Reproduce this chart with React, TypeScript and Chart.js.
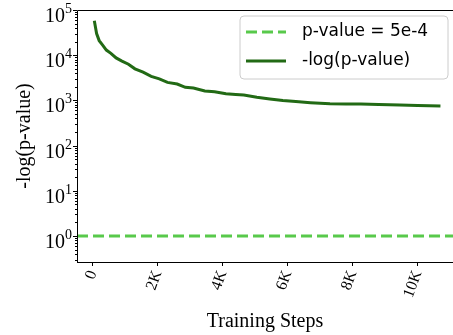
import React, { useEffect, useRef } from 'react';
import { Chart, registerables } from 'chart.js';

Chart.register(...registerables);

// ---- data ----
const steps = [50, 120, 200, 300, 420, 560, 720, 900, 1100, 1300, 1550, 1800, 2050, 2300, 2600, 2850, 3100, 3450, 3750, 4100, 4400, 4650, 5050, 5450, 5850, 6250, 6700, 7300, 7800, 8250, 8800, 9450, 10000, 10700];
const negLogP = [58000, 30000, 21000, 17000, 13000, 11000, 8700, 7400, 6300, 5000, 4200, 3400, 3000, 2500, 2300, 1950, 1880, 1620, 1560, 1400, 1350, 1310, 1180, 1080, 990, 940, 890, 840, 835, 830, 810, 790, 770, 750];
const thresholdValue = 1;
const thresholdLabel = 'p-value = 5e-4';
const curveLabel = '-log(p-value)';
const xTitle = 'Training Steps';
const yTitle = '-log(p-value)';
const xTickValues = [0, 2000, 4000, 6000, 8000, 10000];
const xTickLabels = ['0', '2K', '4K', '6K', '8K', '10K'];
const yTickExponents = [0, 1, 2, 3, 4, 5];
const xMin = -483;
const xMax = 11086;
const yMin = 0.266;
const yMax = 100000;

const SERIF = '"Liberation Serif", "Times New Roman", Times, serif';
const SANS = '"DejaVu Sans", "Noto Sans", sans-serif';
const LIGHT = '#58c94b';
const DARK = '#226a15';

const axesPlugin = {
  id: 'axesDecor',
  afterDraw(chart: any) {
    const { ctx, chartArea: a, scales } = chart;
    const ys = scales.y;
    ctx.save();
    ctx.strokeStyle = '#000';
    ctx.lineWidth = 1;
    ctx.beginPath();
    ctx.moveTo(a.left + 0.5, a.bottom);
    ctx.lineTo(a.left + 0.5, a.top + 0.5);
    ctx.lineTo(a.right, a.top + 0.5);
    ctx.moveTo(a.left, a.bottom + 0.5);
    ctx.lineTo(a.right, a.bottom + 0.5);
    ctx.stroke();

    // y ticks: major and minor
    ctx.beginPath();
    for (let e = -1; e <= 5; e++) {
      for (let m = 1; m <= 9; m++) {
        const v = m * Math.pow(10, e);
        if (v < yMin || v > yMax) continue;
        const py = Math.round(ys.getPixelForValue(v)) + 0.5;
        const len = m === 1 ? 4 : 2;
        ctx.moveTo(a.left - len, py);
        ctx.lineTo(a.left, py);
      }
    }
    ctx.stroke();

    // y labels 10^e
    ctx.fillStyle = '#000';
    ctx.textBaseline = 'alphabetic';
    ctx.textAlign = 'left';
    const baseFont = `20px ${SERIF}`;
    const expFont = `14px ${SERIF}`;
    for (const e of yTickExponents) {
      const py = ys.getPixelForValue(Math.pow(10, e));
      ctx.font = expFont;
      const es = String(e);
      const ew = ctx.measureText(es).width;
      ctx.font = baseFont;
      const bw = ctx.measureText('10').width;
      const xr = a.left - 5;
      ctx.fillText('10', xr - ew - bw, py + 12);
      ctx.font = expFont;
      ctx.fillText(es, xr - ew, py + 3);
    }

    // legend
    const bx = a.right - 213;
    const by = a.top + 6;
    const bwid = 208;
    const bh = 63;
    ctx.beginPath();
    const r = 4;
    ctx.moveTo(bx + r, by);
    ctx.arcTo(bx + bwid, by, bx + bwid, by + bh, r);
    ctx.arcTo(bx + bwid, by + bh, bx, by + bh, r);
    ctx.arcTo(bx, by + bh, bx, by, r);
    ctx.arcTo(bx, by, bx + bwid, by, r);
    ctx.closePath();
    ctx.fillStyle = 'rgba(255,255,255,0.8)';
    ctx.fill();
    ctx.strokeStyle = '#cccccc';
    ctx.lineWidth = 1;
    ctx.stroke();

    const items = chart.data.datasets;
    items.forEach((ds: any, i: number) => {
      const ly = by + 16 + i * 29;
      ctx.beginPath();
      ctx.strokeStyle = ds.borderColor;
      ctx.lineWidth = ds.borderWidth;
      ctx.setLineDash(ds.borderDash || []);
      ctx.moveTo(bx + 6, ly);
      ctx.lineTo(bx + 46, ly);
      ctx.stroke();
      ctx.setLineDash([]);
      ctx.fillStyle = '#000';
      ctx.font = `17px ${SANS}`;
      ctx.textBaseline = 'middle';
      ctx.fillText(ds.label, bx + 62, ly);
    });
    ctx.restore();
  },
};

export default function App() {
  const ref = useRef<HTMLCanvasElement | null>(null);
  useEffect(() => {
    if (!ref.current) return;
    const chart = new Chart(ref.current, {
      type: 'line',
      data: {
        datasets: [
          {
            label: thresholdLabel,
            data: [{ x: xMin, y: thresholdValue }, { x: xMax, y: thresholdValue }],
            borderColor: LIGHT,
            borderWidth: 3,
            borderDash: [11, 5],
            pointRadius: 0,
          },
          {
            label: curveLabel,
            data: steps.map((s, i) => ({ x: s, y: negLogP[i] })),
            borderColor: DARK,
            borderWidth: 3,
            pointRadius: 0,
            tension: 0,
          },
        ],
      },
      options: {
        animation: false,
        responsive: true,
        maintainAspectRatio: false,
        layout: { padding: { top: 10, left: 0, right: 0, bottom: 0 } },
        plugins: { legend: { display: false }, tooltip: { enabled: false } },
        scales: {
          x: {
            type: 'linear',
            min: xMin,
            max: xMax,
            afterBuildTicks: (s: any) => {
              s.ticks = xTickValues.map((v) => ({ value: v }));
            },
            afterFit: (s: any) => {
              s.height = 73;
            },
            ticks: {
              autoSkip: false,
              minRotation: 70,
              maxRotation: 70,
              padding: 2,
              color: '#000',
              font: { family: SERIF, size: 16 },
              callback: (v: any) => {
                const idx = xTickValues.indexOf(Number(v));
                return idx >= 0 ? xTickLabels[idx] : '';
              },
            },
            grid: { display: true, drawOnChartArea: false, drawTicks: true, tickLength: 4, color: '#000', tickColor: '#000' },
            border: { display: false },
            title: { display: true, text: xTitle, color: '#000', font: { family: SERIF, size: 20 }, padding: { top: 0, bottom: 1 } },
          },
          y: {
            type: 'logarithmic',
            min: yMin,
            max: yMax,
            afterFit: (s: any) => {
              s.width = 77;
            },
            ticks: { display: false },
            grid: { display: false },
            border: { display: false },
            title: { display: true, text: yTitle, color: '#000', font: { family: SERIF, size: 20 }, padding: { top: 13, bottom: 0 } },
          },
        },
      },
      plugins: [axesPlugin],
    } as any);
    return () => chart.destroy();
  }, []);
  return (
    <div style={{ position: 'fixed', left: 0, top: 0, width: 453, height: 335 }}>
      <canvas ref={ref} />
    </div>
  );
}
